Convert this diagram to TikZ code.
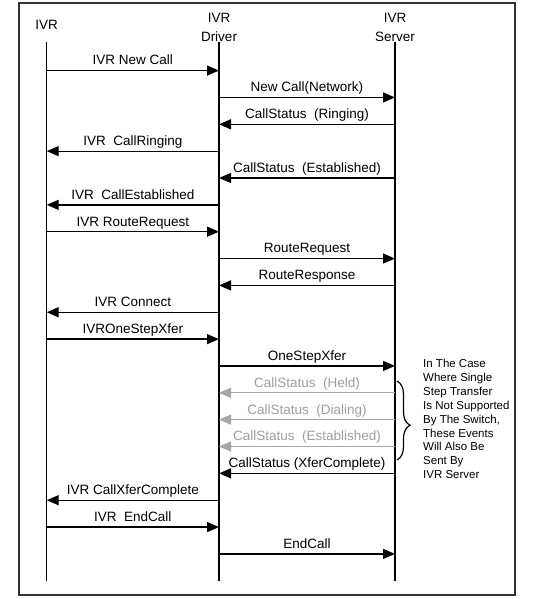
\documentclass[tikz,border=0pt]{standalone}
\usepackage{fontspec}
\setmainfont{Liberation Sans}
\usetikzlibrary{arrows.meta,decorations.pathreplacing}
\tikzset{
  life/.style={line width=1.3pt,black},
  msg/.style={line width=1.3pt,black,-{Triangle[length=12pt,width=10pt]}},
  ghost/.style={msg,draw=black!35,-{Triangle[length=12pt,width=10pt,fill=black!35]}},
  lbl/.style={midway,anchor=base,yshift=5.6pt,inner sep=0pt,font=\fontsize{13.5}{16}\selectfont},
  glbl/.style={lbl,text=black!38},
  head/.style={anchor=base,inner sep=0pt,font=\fontsize{13.5}{16}\selectfont},
  notetext/.style={anchor=base west,inner sep=0pt,font=\fontsize{11.5}{13.9}\selectfont},
  frame/.style={line width=1.6pt,draw=black!80}
}
\begin{document}
\begin{tikzpicture}[x=1pt,y=-1pt]
\useasboundingbox (0,0) rectangle (540,599);
\draw[frame] (19,3) rectangle (515,595);
% headers
\node[head] (hivr) at (46.7,30) {IVR};
\node[head] (hdrv1) at (219,22.2) {IVR};
\node[head] (hdrv2) at (219,41.2) {Driver};
\node[head] (hsrv1) at (395,22.2) {IVR};
\node[head] (hsrv2) at (395,41.2) {Server};
% lifelines
\coordinate (ivrtop) at (46.7,42.5);
\coordinate (ivrbot) at (46.7,581);
\coordinate (drvtop) at (219,42.5);
\coordinate (drvbot) at (219,581);
\coordinate (srvtop) at (395,42.5);
\coordinate (srvbot) at (395,581);
\draw[life] (ivrtop) -- (ivrbot);
\draw[life] (drvtop) -- (drvbot);
\draw[life] (srvtop) -- (srvbot);
% message rows
\foreach \i in {1,...,19}{
  \pgfmathsetmacro\yy{70.6+26.85*(\i-1)}
  \coordinate (a\i) at (46.7,\yy);
  \coordinate (b\i) at (219,\yy);
  \coordinate (c\i) at (395,\yy);
}
\draw[msg] (a1) -- node[lbl]{IVR New Call} (b1);
\draw[msg] (b2) -- node[lbl]{New Call(Network)} (c2);
\draw[msg] (c3) -- node[lbl]{CallStatus\ \ (Ringing)} (b3);
\draw[msg] (b4) -- node[lbl]{IVR\ \ CallRinging} (a4);
\draw[msg] (c5) -- node[lbl]{CallStatus\ \ (Established)} (b5);
\draw[msg] (b6) -- node[lbl]{IVR\ \ CallEstablished} (a6);
\draw[msg] (a7) -- node[lbl]{IVR RouteRequest} (b7);
\draw[msg] (b8) -- node[lbl]{RouteRequest} (c8);
\draw[msg] (c9) -- node[lbl]{RouteResponse} (b9);
\draw[msg] (b10) -- node[lbl]{IVR Connect} (a10);
\draw[msg] (a11) -- node[lbl]{IVROneStepXfer} (b11);
\draw[msg] (b12) -- node[lbl]{OneStepXfer} (c12);
\draw[ghost] (c13) -- node[glbl]{CallStatus\ \ (Held)} (b13);
\draw[ghost] (c14) -- node[glbl]{CallStatus\ \ (Dialing)} (b14);
\draw[ghost] (c15) -- node[glbl]{CallStatus\ \ (Established)} (b15);
\draw[msg] (c16) -- node[lbl]{CallStatus (XferComplete)} (b16);
\draw[msg] (b17) -- node[lbl]{IVR CallXferComplete} (a17);
\draw[msg] (a18) -- node[lbl]{IVR\ \ EndCall} (b18);
\draw[msg] (b19) -- node[lbl]{EndCall} (c19);
% brace
\coordinate (brtop) at (397,381);
\coordinate (brbot) at (397,460);
\draw[line width=1.2pt,decorate,decoration={brace,amplitude=13pt,aspect=0.56}] (brtop) -- (brbot);
% note
\node[notetext] (n1) at (423,367.5) {In The Case};
\node[notetext] (n2) at (423,381.4) {Where Single};
\node[notetext] (n3) at (423,395.3) {Step Transfer};
\node[notetext] (n4) at (423,409.2) {Is Not Supported};
\node[notetext] (n5) at (423,423.1) {By The Switch,};
\node[notetext] (n6) at (423,437.0) {These Events};
\node[notetext] (n7) at (423,450.9) {Will Also Be};
\node[notetext] (n8) at (423,464.8) {Sent By};
\node[notetext] (n9) at (423,478.7) {IVR Server};
\end{tikzpicture}
\end{document}
